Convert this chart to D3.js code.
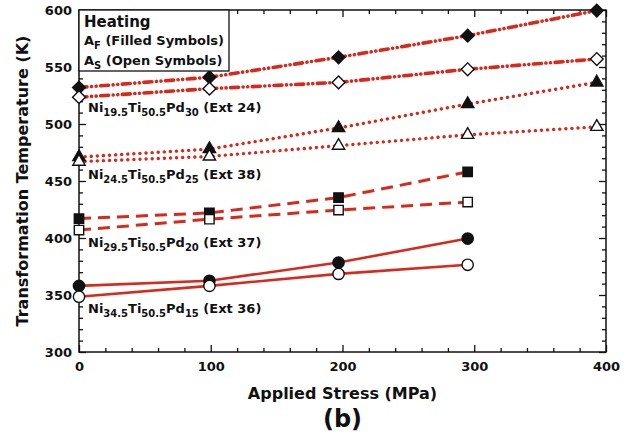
<!doctype html>
<html>
<head>
<script src="https://d3js.org/d3.v7.min.js"></script>
<style>
  body { margin: 0; background: #fff; }
  text { font-family: "DejaVu Sans", sans-serif; font-weight: bold; fill: #111; }
  .frame { fill: none; stroke: #111; stroke-width: 1.5; }
  .tick line { stroke: #111; stroke-width: 1.3; }
  .domain { display: none; }
</style>
</head>
<body>
<svg id="chart" width="628" height="437"></svg>
<script>
// values
var stress5 = [0, 99, 197, 295, 393];
var stress4 = [0, 99, 197, 295];

var pd30Af = [532, 541, 558.5, 577.5, 599.5];
var pd30As = [523.5, 531, 536.5, 548, 557];
var pd25Af = [471, 478, 496.5, 517.5, 536.5];
var pd25As = [467, 471.5, 481, 490.5, 497.5];
var pd20Af = [417, 422, 435.5, 458];
var pd20As = [407, 416.5, 424.5, 431.5];
var pd15Af = [358, 362.5, 378.5, 399.5];
var pd15As = [348.5, 358, 368.5, 376.5];

var xTicks = [0, 100, 200, 300, 400];
var yTicks = [300, 350, 400, 450, 500, 550, 600];

var alloyLabels = [
  {parts: [["Ni", 0], ["19.5", 1], ["Ti", 0], ["50.5", 1], ["Pd", 0], ["30", 1], [" (Ext 24)", 0]], T: 510.5},
  {parts: [["Ni", 0], ["24.5", 1], ["Ti", 0], ["50.5", 1], ["Pd", 0], ["25", 1], [" (Ext 38)", 0]], T: 451.8},
  {parts: [["Ni", 0], ["29.5", 1], ["Ti", 0], ["50.5", 1], ["Pd", 0], ["20", 1], [" (Ext 37)", 0]], T: 392},
  {parts: [["Ni", 0], ["34.5", 1], ["Ti", 0], ["50.5", 1], ["Pd", 0], ["15", 1], [" (Ext 36)", 0]], T: 334}
];

var red = "#d82a1c";

var series = [
  {x: stress5, y: pd30Af, sym: "diamond", fill: true,  dash: "8,4.5,0.1,4.5,0.1,4.5", w: 3.6, cap: "round"},
  {x: stress5, y: pd30As, sym: "diamond", fill: false, dash: "8,4.5,0.1,4.5,0.1,4.5", w: 3.6, cap: "round"},
  {x: stress5, y: pd25Af, sym: "triangle", fill: true,  dash: "0.1,6", w: 3.4, cap: "round"},
  {x: stress5, y: pd25As, sym: "triangle", fill: false, dash: "0.1,6", w: 3.4, cap: "round"},
  {x: stress4, y: pd20Af, sym: "square", fill: true,  dash: "12,7", w: 3, cap: "butt"},
  {x: stress4, y: pd20As, sym: "square", fill: false, dash: "12,7", w: 3, cap: "butt"},
  {x: stress4, y: pd15Af, sym: "circle", fill: true,  dash: null, w: 2.6, cap: "butt"},
  {x: stress4, y: pd15As, sym: "circle", fill: false, dash: null, w: 2.6, cap: "butt"}
];

var svg = d3.select("#chart");
var x = d3.scaleLinear().domain([0, 400]).range([79, 606]);
var y = d3.scaleLinear().domain([300, 600]).range([352, 10]);

// ticks, all pointing inward
var xMinor = d3.range(0, 401, 20).filter(function(v) { return v % 100; });
var yMinor = d3.range(300, 601, 10).filter(function(v) { return v % 50; });

svg.append("g").attr("transform", "translate(0,352)")
  .call(d3.axisBottom(x).tickValues(xTicks).tickSizeInner(-7).tickPadding(10).tickFormat(d3.format("d")))
  .call(function(g) { g.selectAll("text").attr("font-size", 13).attr("font-family", null); });
svg.append("g").attr("transform", "translate(0,352)")
  .call(d3.axisBottom(x).tickValues(xMinor).tickSizeInner(-4).tickFormat(""));
svg.append("g").attr("transform", "translate(0,10)")
  .call(d3.axisTop(x).tickValues(xTicks).tickSizeInner(-7).tickFormat(""));
svg.append("g").attr("transform", "translate(0,10)")
  .call(d3.axisTop(x).tickValues(xMinor).tickSizeInner(-4).tickFormat(""));

svg.append("g").attr("transform", "translate(79,0)")
  .call(d3.axisLeft(y).tickValues(yTicks).tickSizeInner(-7).tickPadding(7).tickFormat(d3.format("d")))
  .call(function(g) { g.selectAll("text").attr("font-size", 13).attr("font-family", null); });
svg.append("g").attr("transform", "translate(79,0)")
  .call(d3.axisLeft(y).tickValues(yMinor).tickSizeInner(-4).tickFormat(""));
svg.append("g").attr("transform", "translate(606,0)")
  .call(d3.axisRight(y).tickValues(yTicks).tickSizeInner(-7).tickFormat(""));
svg.append("g").attr("transform", "translate(606,0)")
  .call(d3.axisRight(y).tickValues(yMinor).tickSizeInner(-4).tickFormat(""));

svg.append("rect").attr("class", "frame")
  .attr("x", x(0)).attr("y", y(600))
  .attr("width", x(400) - x(0)).attr("height", y(300) - y(600));

// lines
var line = d3.line();
series.forEach(function(s) {
  var pts = s.x.map(function(v, i) { return [x(v), y(s.y[i])]; });
  svg.append("path")
    .attr("d", line(pts))
    .attr("fill", "none")
    .attr("stroke", red)
    .attr("stroke-width", s.w)
    .attr("stroke-linecap", s.cap)
    .attr("stroke-dasharray", s.dash);
});

// markers
var symTypes = {
  circle: [d3.symbolCircle, 100, 0],
  square: [d3.symbolSquare, 88, 0],
  diamond: [d3.symbolSquare, 82, 45],
  triangle: [d3.symbolTriangle, 66, 0]
};
series.forEach(function(s) {
  var t = symTypes[s.sym];
  svg.append("g").selectAll("path")
    .data(s.x.map(function(v, i) { return [v, s.y[i]]; }))
    .enter().append("path")
    .attr("d", d3.symbol().type(t[0]).size(t[1]))
    .attr("transform", function(d) {
      return "translate(" + x(d[0]) + "," + y(d[1]) + ") rotate(" + t[2] + ")";
    })
    .attr("fill", s.fill ? "#111" : "#fff")
    .attr("stroke", "#111")
    .attr("stroke-width", 1.4);
});

// alloy labels
alloyLabels.forEach(function(l) {
  var t = svg.append("text").attr("x", 88).attr("y", y(l.T)).attr("font-size", 13);
  var prevSub = 0;
  l.parts.forEach(function(p) {
    var ts = t.append("tspan").text(p[0]);
    if (p[1]) { ts.attr("font-size", 10); }
    if (p[1] !== prevSub) ts.attr("dy", p[1] ? 4 : -4);
    prevSub = p[1];
  });
});

// legend box
svg.append("rect").attr("x", 79).attr("y", 10).attr("width", 150).attr("height", 61)
  .attr("fill", "#fff").attr("stroke", "#111").attr("stroke-width", 1.3);
svg.append("text").attr("x", 84).attr("y", 27).attr("font-size", 15).text("Heating");
[["F", " (Filled Symbols)", 45], ["S", " (Open Symbols)", 65]].forEach(function(r) {
  var t = svg.append("text").attr("x", 84).attr("y", r[2]).attr("font-size", 13);
  t.append("tspan").text("A");
  t.append("tspan").attr("font-size", 10).attr("dy", 4).text(r[0]);
  t.append("tspan").attr("dy", -4).text(r[1]);
});

// axis titles
svg.append("text").attr("x", 342.5).attr("y", 399).attr("text-anchor", "middle")
  .attr("font-size", 16).text("Applied Stress (MPa)");
svg.append("text").attr("x", 342.5).attr("y", 427).attr("text-anchor", "middle")
  .attr("font-size", 24).text("(b)");
svg.append("text").attr("transform", "translate(28,181) rotate(-90)").attr("text-anchor", "middle")
  .attr("font-size", 16).text("Transformation Temperature (K)");
</script>
</body>
</html>
